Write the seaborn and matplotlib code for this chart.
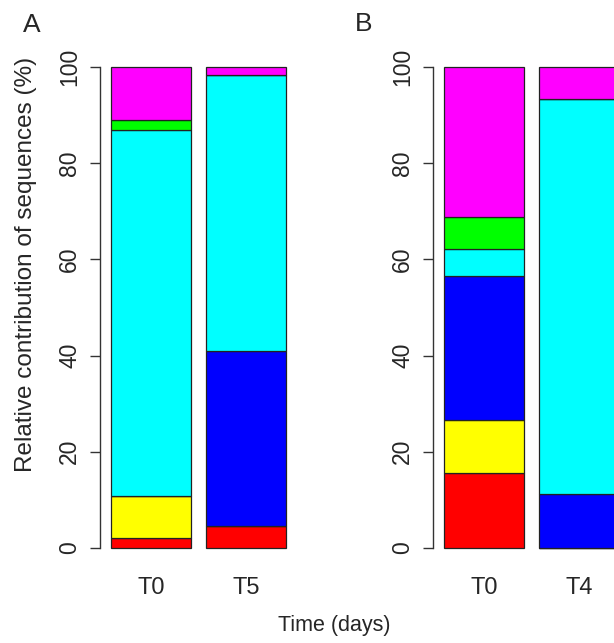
import numpy as np
import pandas as pd
import matplotlib
matplotlib.use("Agg")
import matplotlib.pyplot as plt
import seaborn as sns

# stacked layers, bottom to top
layers = ["red", "yellow", "blue", "cyan", "green", "magenta"]
colors = ["#FF0000", "#FFFF00", "#0000FF", "#00FFFF", "#00FF00", "#FF00FF"]

times_a = ["T0", "T5"]
values_a = {
    "red": [2.1, 4.6],
    "yellow": [8.7, 0.0],
    "blue": [0.0, 36.4],
    "cyan": [76.1, 57.3],
    "green": [2.1, 0.0],
    "magenta": [11.0, 1.7],
}

times_b = ["T0", "T4"]
values_b = {
    "red": [15.6, 0.0],
    "yellow": [11.0, 0.0],
    "blue": [29.9, 11.2],
    "cyan": [5.7, 82.1],
    "green": [6.6, 0.0],
    "magenta": [31.2, 6.7],
}

sns.set_theme(style="white")
plt.rcParams["font.family"] = ["Liberation Sans", "DejaVu Sans"]

W, H = 614, 643
fig = plt.figure(figsize=(W / 100, H / 100), dpi=100)

ax_w = 197 / W
ax_h = (548 - 67) / H
bottom = 1 - 548 / H
ax_a = fig.add_axes([100 / W, bottom, ax_w, ax_h])
ax_b = fig.add_axes([433 / W, bottom, ax_w, ax_h])


def draw_panel(ax, times, values):
    cum = np.zeros(len(times))
    for name, col in zip(layers, colors):
        vals = np.array(values[name])
        df = pd.DataFrame({"time": times, "value": vals})
        sns.barplot(data=df, x="time", y="value", order=times, bottom=cum,
                    color=col, saturation=1, width=0.833, edgecolor="#222222",
                    linewidth=0.9, errorbar=None, ax=ax)
        cum = cum + vals
    ax.set_xlim(-0.537, 1.537)
    ax.set_ylim(0, 100)
    ax.set_xlabel("")
    ax.set_ylabel("")
    for s in ["top", "right", "bottom"]:
        ax.spines[s].set_visible(False)
    ax.spines["left"].set_color("#333333")
    ax.spines["left"].set_linewidth(1.0)
    ax.set_yticks([0, 20, 40, 60, 80, 100])
    ax.tick_params(axis="y", left=True, length=7.5, width=1, color="#333333",
                   labelsize=16.5, pad=6, labelrotation=90)
    for lbl in ax.get_yticklabels():
        lbl.set_va("center")
    ax.tick_params(axis="x", bottom=False, length=0, labelsize=17, pad=21)
    for p in ax.patches:
        p.set_clip_on(False)


draw_panel(ax_a, times_a, values_a)
draw_panel(ax_b, times_b, values_b)

fig.text(26 / W, 1 - 264 / H, "Relative contribution of sequences (%)",
         fontsize=17.5, rotation=90, ha="center", va="center")
fig.text(32 / W, 1 - 25 / H, "A", fontsize=19, ha="center", va="center")
fig.text(364 / W, 1 - 24 / H, "B", fontsize=19, ha="center", va="center")
fig.text(334 / W, 1 - 625 / H, "Time (days)", fontsize=15.5, ha="center", va="center")

fig.savefig("out.png", dpi=100)
